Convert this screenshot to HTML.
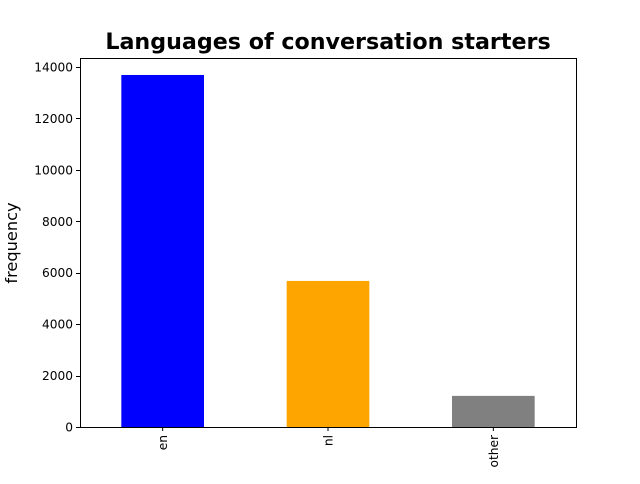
<!DOCTYPE html>
<html><head><style>
body{margin:0;background:#fff;width:640px;height:480px;overflow:hidden;font-family:"DejaVu Sans","Liberation Sans",sans-serif;}
</style></head><body>
<svg width="640" height="480" id="svg" xmlns="http://www.w3.org/2000/svg" font-family="DejaVu Sans, Liberation Sans, sans-serif">
<text x="328" y="49" text-anchor="middle" font-size="22.2" font-weight="bold">Languages of conversation starters</text>
<text transform="translate(17,243) rotate(-90)" text-anchor="middle" font-size="16.2">frequency</text>
<text x="328" y="492" text-anchor="middle" font-size="16">language</text>
<g id="bars"></g><g id="yt"></g><g id="xt"></g>
<rect x="80.5" y="58.5" width="496" height="369" fill="none" stroke="#000" stroke-width="1"/>
</svg>
<script>
const categories=["en","nl","other"];
const values=[13690,5680,1210];
const colors=["#0000ff","#ffa500","#808080"];
const yTicks=[0,2000,4000,6000,8000,10000,12000,14000];
const L=80,R=576,T=58,B=427,yMax=14350;
const ns="http://www.w3.org/2000/svg";
function y(v){return B-v/yMax*(B-T);}
const step=(R-L)/categories.length;
function xc(i){return L+step*(i+0.5);}
const bars=document.getElementById('bars'),yt=document.getElementById('yt'),xt=document.getElementById('xt');
categories.forEach((c,i)=>{
 const r=document.createElementNS(ns,'rect');
 r.setAttribute('x',xc(i)-step/4);r.setAttribute('width',step/2);
 r.setAttribute('y',y(values[i]));r.setAttribute('height',B-y(values[i]));
 r.setAttribute('fill',colors[i]);
 
 
 bars.appendChild(r);
 const t=document.createElementNS(ns,'line');
 t.setAttribute('x1',xc(i));t.setAttribute('x2',xc(i));t.setAttribute('y1',B);t.setAttribute('y2',B+4);t.setAttribute('stroke','#000');
 
 
 xt.appendChild(t);
 const tx=document.createElementNS(ns,'text');
 tx.setAttribute('transform',`translate(${xc(i)+4.5},${B+8}) rotate(-90)`);
 tx.setAttribute('text-anchor','end');tx.setAttribute('font-size','12.2');tx.textContent=c;
 
 
 xt.appendChild(tx);
});
yTicks.forEach(v=>{
 const t=document.createElementNS(ns,'line');
 t.setAttribute('x1',L-4);t.setAttribute('x2',L);t.setAttribute('y1',Math.round(y(v))+0.5);t.setAttribute('y2',Math.round(y(v))+0.5);t.setAttribute('stroke','#000');
 
 
 yt.appendChild(t);
 const tx=document.createElementNS(ns,'text');
 tx.setAttribute('x',L-7);tx.setAttribute('y',y(v)+4.5);tx.setAttribute('text-anchor','end');tx.setAttribute('font-size','12.2');tx.textContent=v;
 
 
 yt.appendChild(tx);
});
</script>
</body></html>
